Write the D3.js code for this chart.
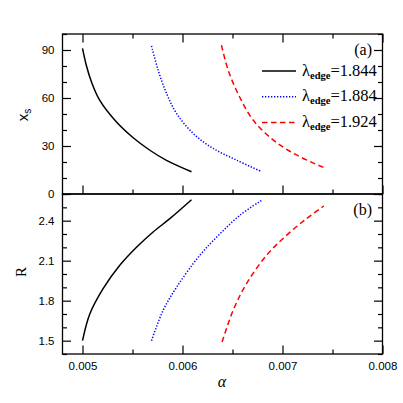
<!DOCTYPE html>
<html lang="en">
<head>
    <meta charset="utf-8" />
    <title>x_s and R versus alpha</title>
    <script src="https://d3js.org/d3.v7.min.js"></script>
    <style>
        body { margin: 0; background: #fff; }
        .axis text { font-family: "Liberation Sans", Arial, sans-serif; font-size: 11.5px; fill: #000; }
        .axis line { stroke: #000; stroke-width: 1.2; }
        .axis path { display: none; }
        .frame { fill: none; stroke: #000; stroke-width: 1.3; }
        .serif { font-family: "Liberation Serif", "Times New Roman", serif; }
    </style>
</head>
<body>
<script>
    // data
    const lambdas = ["1.844", "1.884", "1.924"];
    const colors = ["#000000", "#0000ff", "#ff0000"];
    const dashes = [null, "1.3,1.7", "5.5,3.5"];

    // panel (a): x_s vs alpha
    const xsAlpha = [
        [0.00500, 0.00504, 0.00509, 0.005173, 0.00534, 0.00551, 0.00567, 0.00584, 0.00609],
        [0.00569, 0.005756, 0.00584, 0.00594, 0.006106, 0.006306, 0.00654, 0.00679],
        [0.00639, 0.006456, 0.00657, 0.006706, 0.006906, 0.00714, 0.00744]
    ];
    const xsValues = [
        [91, 80, 70, 58.5, 45, 35, 27.5, 21, 13.9],
        [92.5, 77.5, 62.9, 50.4, 37.9, 28.5, 21.2, 14],
        [93, 77.5, 60.8, 46.2, 33.8, 24.4, 15.8]
    ];

    // panel (b): R vs alpha
    const rAlpha = [
        [0.00500, 0.005073, 0.005206, 0.005373, 0.00554, 0.005706, 0.005873, 0.00609],
        [0.00569, 0.005806, 0.00594, 0.006173, 0.006373, 0.006573, 0.00679],
        [0.006396, 0.006506, 0.00664, 0.00684, 0.00704, 0.00724, 0.007413]
    ];
    const rValues = [
        [1.50, 1.70, 1.89, 2.065, 2.20, 2.315, 2.415, 2.557],
        [1.50, 1.727, 1.90, 2.14, 2.30, 2.44, 2.552],
        [1.49, 1.727, 1.9275, 2.14, 2.29, 2.415, 2.51]
    ];

    const xMajor = [0.005, 0.006, 0.007, 0.008];
    const xMinor = [0.0055, 0.0065, 0.0075];
    const xsMajor = [0, 30, 60, 90];
    const xsMinor = [10, 20, 40, 50, 70, 80, 100];
    const rMajor = [1.5, 1.8, 2.1, 2.4];
    const rMinor = [1.4, 1.6, 1.7, 1.9, 2.0, 2.2, 2.3, 2.5, 2.6];

    const W = 403, H = 403;
    const pLeft = 62.5, pRight = 382.5, pTop = 34, pMid = 194, pBottom = 354;
    const major = 8.5, minor = 4.5;

    const svg = d3.select("body").append("svg").attr("width", W).attr("height", H);

    // scales
    const xscale = d3.scaleLinear().domain([0.0048, 0.008]).range([pLeft, pRight]);
    const yTop = d3.scaleLinear().domain([0, 100]).range([pMid, pTop]);
    const yBot = d3.scaleLinear().domain([1.4, 2.6]).range([pBottom, pMid]);

    // helper to draw an inward axis
    function ticks(axisFn, scale, values, size, labels, fmt, tx, ty) {
        const a = axisFn(scale).tickValues(values).tickSizeInner(-size).tickSizeOuter(0).tickPadding(8);
        a.tickFormat(labels ? fmt : () => "");
        svg.append("g").attr("class", "axis").attr("transform", `translate(${tx},${ty})`).call(a);
    }

    // panel (a) axes
    ticks(d3.axisLeft, yTop, xsMajor, major, true, d3.format("d"), pLeft, 0);
    ticks(d3.axisLeft, yTop, xsMinor, minor, false, null, pLeft, 0);
    ticks(d3.axisRight, yTop, xsMajor, major, false, null, pRight, 0);
    ticks(d3.axisRight, yTop, xsMinor, minor, false, null, pRight, 0);
    ticks(d3.axisTop, xscale, xMajor, major, false, null, 0, pTop);
    ticks(d3.axisTop, xscale, xMinor, minor, false, null, 0, pTop);
    ticks(d3.axisBottom, xscale, xMajor, major, false, null, 0, pMid);
    ticks(d3.axisBottom, xscale, xMinor, minor, false, null, 0, pMid);

    // panel (b) axes
    ticks(d3.axisLeft, yBot, rMajor, major, true, d3.format(".1f"), pLeft, 0);
    ticks(d3.axisLeft, yBot, rMinor, minor, false, null, pLeft, 0);
    ticks(d3.axisRight, yBot, rMajor, major, false, null, pRight, 0);
    ticks(d3.axisRight, yBot, rMinor, minor, false, null, pRight, 0);
    ticks(d3.axisBottom, xscale, xMajor, major, true, d3.format(".3f"), 0, pBottom);
    ticks(d3.axisBottom, xscale, xMinor, minor, false, null, 0, pBottom);

    // frames
    svg.append("rect").attr("class", "frame").attr("x", pLeft).attr("y", pTop)
        .attr("width", pRight - pLeft).attr("height", pMid - pTop);
    svg.append("rect").attr("class", "frame").attr("x", pLeft).attr("y", pMid)
        .attr("width", pRight - pLeft).attr("height", pBottom - pMid);

    // curves
    function drawCurves(alphas, values, yscale) {
        const line = d3.line().x((d) => xscale(d[0])).y((d) => yscale(d[1])).curve(d3.curveCatmullRom.alpha(0.5));
        alphas.forEach((al, i) => {
            svg.append("path")
                .datum(al.map((a, j) => [a, values[i][j]]))
                .attr("d", line)
                .attr("fill", "none")
                .attr("stroke", colors[i])
                .attr("stroke-width", 1.5)
                .attr("stroke-dasharray", dashes[i]);
        });
    }
    drawCurves(xsAlpha, xsValues, yTop);
    drawCurves(rAlpha, rValues, yBot);

    // legend
    lambdas.forEach((lam, i) => {
        const y = 71 + i * 25.7;
        svg.append("line").attr("x1", 262).attr("x2", 296).attr("y1", y).attr("y2", y)
            .attr("stroke", colors[i]).attr("stroke-width", 1.5).attr("stroke-dasharray", dashes[i]);
        const t = svg.append("text").attr("class", "serif").attr("x", 302).attr("y", y + 4.5)
            .attr("font-size", 16.5);
        t.append("tspan").text("λ");
        t.append("tspan").attr("font-size", 10.5).attr("font-weight", "bold").attr("dy", 3).text("edge");
        t.append("tspan").attr("dy", -3).text("=" + lam);
    });

    // panel tags
    svg.append("text").attr("class", "serif").attr("x", 372).attr("y", 54.5)
        .attr("text-anchor", "end").attr("font-size", 16).text("(a)");
    svg.append("text").attr("class", "serif").attr("x", 372).attr("y", 214.5)
        .attr("text-anchor", "end").attr("font-size", 16).text("(b)");

    // axis titles
    const xsLab = svg.append("text").attr("transform", "translate(28,115) rotate(-90)")
        .attr("text-anchor", "middle").attr("font-family", "Liberation Sans, sans-serif").attr("font-size", 15);
    xsLab.append("tspan").text("x");
    xsLab.append("tspan").attr("font-size", 10).attr("dy", 3).text("s");

    svg.append("text").attr("class", "serif").attr("transform", "translate(26,272) rotate(-90)")
        .attr("text-anchor", "middle").attr("font-size", 15).text("R");

    svg.append("text").attr("class", "serif").attr("x", 222).attr("y", 387)
        .attr("text-anchor", "middle").attr("font-size", 16).attr("font-style", "italic").text("α");
</script>
</body>
</html>
